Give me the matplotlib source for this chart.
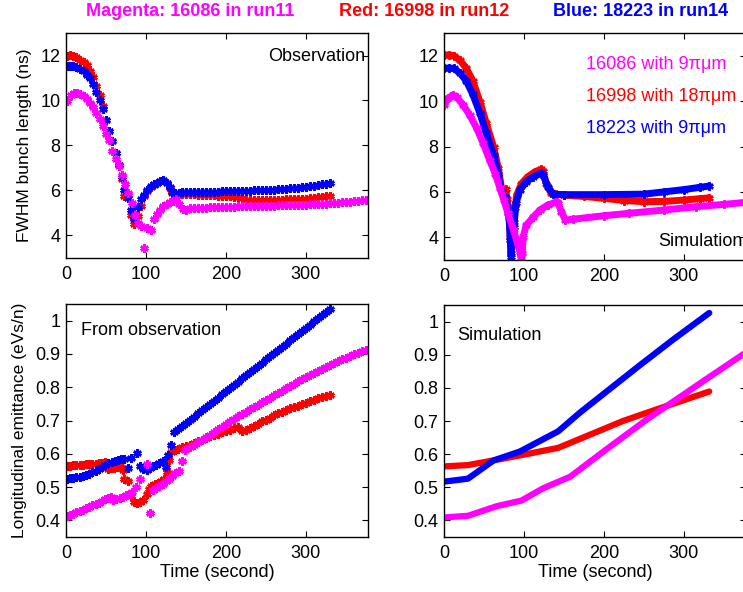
import numpy as np
import matplotlib
matplotlib.use("Agg")
import matplotlib.pyplot as plt

plt.rcParams['font.family'] = ['Liberation Sans', 'DejaVu Sans']

MAG = "#ff00ff"
RED = "#ff0000"
BLU = "#0000ff"

# =========================
# bunch length, observation (ns)
# =========================
mag_len_t = [1, 6, 10, 14, 18, 22, 26, 30, 34, 38, 42, 46, 50, 54, 58, 62, 66, 70, 74, 78,
             82, 86, 90, 94, 98, 102, 106, 110, 114, 118, 122, 126, 130, 134, 138, 142, 146, 150]
mag_len_t += list(np.arange(155, 380, 5))
mag_len = [9.98, 10.25, 10.32, 10.32, 10.28, 10.2, 10.05, 9.9, 9.7, 9.46, 9.17, 8.88, 8.52, 8.24,
           7.75, 7.42, 7.1, 6.68, 6.28, 5.87, 5.43, 4.9, 4.55, 4.43, 3.45, 4.33, 4.23, 4.75, 4.97,
           5.15, 5.3, 5.4, 5.47, 5.53, 5.62, 5.42, 5.17, 5.15,
           5.2, 5.21, 5.22, 5.23, 5.24, 5.25, 5.26, 5.26, 5.27, 5.27, 5.28, 5.28, 5.29, 5.29, 5.3,
           5.3, 5.31, 5.31, 5.32, 5.32, 5.33, 5.33, 5.34, 5.34, 5.35, 5.35, 5.36, 5.36, 5.37, 5.37,
           5.38, 5.39, 5.4, 5.41, 5.42, 5.43, 5.44, 5.45, 5.47, 5.48, 5.5, 5.52, 5.54, 5.56, 5.58]

red_len_t = [1, 5, 9, 13, 18, 22, 26, 30, 34, 38, 42, 46, 50, 54, 58, 62, 66, 70, 73, 77,
             81, 85, 90, 94, 98, 102, 106, 110, 114, 118, 122, 126, 130, 133, 137, 141, 145, 150]
red_len_t += list(np.arange(155, 335, 5))
red_len = [12.0, 12.02, 12.0, 11.95, 11.82, 11.7, 11.56, 11.3, 11.03, 10.65, 10.24, 9.76, 9.14,
           8.66, 8.22, 7.67, 7.12, 6.53, 5.75, 5.8, 4.9, 4.5, 4.85, 5.3, 5.75, 5.98, 6.15, 6.26,
           6.34, 6.42, 6.46, 6.33, 6.12, 5.9, 5.88, 5.87, 5.86, 5.85,
           5.84, 5.83, 5.82, 5.81, 5.8, 5.79, 5.78, 5.77, 5.76, 5.75, 5.74, 5.73, 5.72, 5.68, 5.58,
           5.57, 5.57, 5.57, 5.57, 5.58, 5.58, 5.58, 5.59, 5.59, 5.6, 5.6, 5.61, 5.62, 5.63, 5.64,
           5.66, 5.68, 5.7, 5.72, 5.74, 5.76]

blu_len_t = [1, 5, 9, 13, 17, 22, 26, 30, 34, 38, 42, 46, 50, 54, 58, 62, 66, 70, 73, 77,
             81, 85, 90, 94, 98, 102, 106, 110, 114, 118, 122, 126, 130, 133, 137, 141, 145, 150]
blu_len_t += list(np.arange(155, 335, 5))
blu_len = [11.52, 11.53, 11.52, 11.48, 11.42, 11.3, 11.15, 10.98, 10.72, 10.38, 10.01, 9.61,
           9.14, 8.66, 8.22, 7.67, 7.12, 6.6, 6.02, 5.65, 5.13, 4.72, 5.25, 5.6, 5.82, 6.01, 6.19,
           6.28, 6.35, 6.43, 6.48, 6.34, 6.14, 5.92, 5.91, 5.91, 5.92, 5.92,
           5.93, 5.93, 5.94, 5.94, 5.94, 5.95, 5.95, 5.95, 5.96, 5.96, 5.97, 5.97, 5.98, 5.98, 5.99,
           5.99, 6.0, 6.0, 6.01, 6.02, 6.03, 6.04, 6.05, 6.07, 6.08, 6.09, 6.11, 6.13, 6.15, 6.17,
           6.19, 6.21, 6.24, 6.27, 6.3, 6.33]

# =========================
# bunch length, simulation (ns)
# =========================
mag_sim_len_t = [0, 5, 11, 16, 24, 32, 41, 49, 57, 64, 70, 75, 80, 87, 92, 95, 96.5, 98, 99,
                 103, 112, 120, 130, 141, 143, 147, 152, 162, 200, 232, 275, 316, 350, 378]
mag_sim_len = [9.83, 10.12, 10.27, 10.17, 9.83, 9.39, 8.8, 8.14, 7.41, 6.81, 6.16, 5.64, 5.05,
               4.32, 3.73, 3.37, 3.1, 3.3, 4.02, 4.53, 4.9, 5.2, 5.42, 5.56, 5.49, 5.12, 4.76,
               4.8, 4.95, 5.06, 5.2, 5.35, 5.45, 5.54]

red_sim_len_t = [0, 6, 12, 20, 28, 36, 45, 53, 62, 68, 72, 75, 77, 79, 80.5, 82, 83, 84, 85.5,
                 87.5, 89, 91, 97, 105, 114, 122, 124, 128, 134, 140, 150, 175, 200, 225, 250,
                 275, 300, 320, 332]
red_sim_len = [12.03, 12.03, 12.0, 11.8, 11.44, 10.9, 9.97, 9.02, 7.99, 7.04, 6.16, 6.0, 6.12,
               5.7, 5.3, 4.6, 4.0, 3.3, 3.9, 4.68, 5.3, 5.86, 6.37, 6.67, 6.89, 7.0, 6.9, 6.37,
               5.93, 5.9, 5.86, 5.8, 5.72, 5.62, 5.57, 5.58, 5.64, 5.7, 5.74]

blu_sim_len_t = [0, 6, 12, 20, 28, 36, 45, 53, 62, 68, 72, 76, 79, 80.5, 82, 83, 84, 85.5, 87.5,
                 90, 95, 103, 112, 122, 124, 130, 137, 150, 200, 250, 275, 300, 320, 332]
blu_sim_len = [11.44, 11.46, 11.44, 11.24, 10.88, 10.3, 9.46, 8.58, 7.62, 6.81, 6.01, 5.79, 5.4,
               5.05, 4.6, 3.87, 3.14, 3.9, 4.46, 5.49, 6.08, 6.45, 6.67, 6.82, 6.75, 6.23, 5.89,
               5.88, 5.88, 5.9, 6.0, 6.1, 6.2, 6.26]

# =========================
# emittance, observation (eVs/n)
# =========================
mag_emit_t = [1, 5, 9, 13, 17, 21, 25, 29, 33, 37, 41, 45, 49, 53, 56, 59, 63, 67, 71, 75, 79,
              83, 88, 92, 101, 105, 109, 113, 117, 121, 125, 129, 133, 137, 141, 145, 149]
mag_emit_t += list(np.arange(155, 380, 5))
mag_emit = [0.412, 0.416, 0.420, 0.424, 0.428, 0.432, 0.437, 0.441, 0.445, 0.449, 0.453, 0.458,
            0.463, 0.468, 0.471, 0.460, 0.463, 0.467, 0.471, 0.476, 0.480, 0.485, 0.500, 0.523,
            0.568, 0.422, 0.490, 0.497, 0.503, 0.510, 0.517, 0.525, 0.533, 0.541, 0.547, 0.577,
            0.612,
            0.620, 0.627, 0.634, 0.641, 0.649, 0.657, 0.665, 0.673, 0.681, 0.690, 0.698, 0.705,
            0.713, 0.720, 0.727, 0.734, 0.741, 0.748, 0.755, 0.762, 0.769, 0.776, 0.783, 0.790,
            0.797, 0.804, 0.811, 0.818, 0.825, 0.831, 0.838, 0.844, 0.850, 0.856, 0.862, 0.868,
            0.873, 0.879, 0.884, 0.889, 0.894, 0.899, 0.904, 0.908, 0.912]

red_emit_t = [1, 5, 9, 13, 17, 21, 25, 29, 33, 37, 41, 45, 49, 52, 56, 60, 64, 68, 71, 73, 77,
              81, 85, 89, 93, 97, 101, 104, 107, 111, 115, 119, 123, 126, 129, 132, 136, 140,
              145, 150]
red_emit_t += list(np.arange(155, 335, 5))
red_emit = [0.563, 0.564, 0.565, 0.566, 0.566, 0.567, 0.568, 0.568, 0.569, 0.570, 0.571, 0.573,
            0.574, 0.554, 0.556, 0.558, 0.560, 0.562, 0.552, 0.524, 0.517, 0.472, 0.455, 0.452,
            0.455, 0.462, 0.478, 0.495, 0.503, 0.508, 0.513, 0.518, 0.525, 0.545, 0.582, 0.605,
            0.612, 0.615, 0.619, 0.623,
            0.627, 0.632, 0.637, 0.642, 0.647, 0.652, 0.656, 0.660, 0.664, 0.668, 0.672, 0.676,
            0.680, 0.667, 0.670, 0.677, 0.684, 0.690, 0.697, 0.703, 0.709, 0.716, 0.722, 0.727,
            0.732, 0.737, 0.741, 0.745, 0.750, 0.754, 0.758, 0.762, 0.767, 0.771, 0.775, 0.778]

blu_emit_t = [1, 5, 9, 13, 17, 21, 25, 29, 33, 37, 41, 45, 49, 53, 57, 61, 65, 69, 73, 77, 81,
              89, 93, 97, 101, 105, 109, 113, 117, 121, 125, 128, 132]
blu_emit_t += list(np.arange(135, 335, 5))
blu_emit = [0.524, 0.526, 0.527, 0.529, 0.531, 0.533, 0.536, 0.540, 0.544, 0.549, 0.554, 0.560,
            0.566, 0.572, 0.576, 0.579, 0.581, 0.583, 0.584, 0.557, 0.587, 0.602, 0.564, 0.555,
            0.552, 0.557, 0.562, 0.567, 0.572, 0.578, 0.559, 0.597, 0.625,
            0.666, 0.674, 0.683, 0.693, 0.702, 0.712, 0.722, 0.731, 0.741, 0.750, 0.760, 0.769,
            0.779, 0.789, 0.798, 0.808, 0.817, 0.827, 0.836, 0.846, 0.855, 0.865, 0.874, 0.884,
            0.893, 0.903, 0.912, 0.922, 0.931, 0.941, 0.950, 0.960, 0.969, 0.979, 0.988, 0.998,
            1.007, 1.017, 1.026, 1.036]

# =========================
# emittance, simulation (eVs/n)
# =========================
mag_sim_emit_t = [0, 30, 66, 97, 124, 158, 203, 253, 328, 378]
mag_sim_emit = [0.409, 0.414, 0.443, 0.460, 0.497, 0.532, 0.614, 0.703, 0.826, 0.907]

red_sim_emit_t = [0, 30, 66, 99, 143, 183, 224, 266, 332]
red_sim_emit = [0.563, 0.567, 0.583, 0.598, 0.619, 0.659, 0.700, 0.735, 0.789]

blu_sim_emit_t = [0, 30, 62, 95, 143, 170, 203, 245, 287, 332]
blu_sim_emit = [0.517, 0.526, 0.581, 0.608, 0.669, 0.725, 0.788, 0.868, 0.946, 1.026]


# =========================
# FIGURE
# =========================
W, H = 743, 592
fig = plt.figure(figsize=(W / 100, H / 100), dpi=100)


def box(left, top, right, bottom):
    return [left / W, 1 - bottom / H, (right - left) / W, (bottom - top) / H]


ax_tl = fig.add_axes(box(66, 33, 368, 258))
ax_tr = fig.add_axes(box(444, 33, 746, 260))
ax_bl = fig.add_axes(box(66, 304, 368, 537))
ax_br = fig.add_axes(box(444, 305, 746, 537))

for ax in (ax_tl, ax_tr, ax_bl, ax_br):
    ax.set_xlim(0, 378)
    ax.set_xticks([0, 100, 200, 300])
    ax.tick_params(direction="in", top=True, right=True, labelsize=13, length=4)
    ax.tick_params(axis="x", pad=6)
    ax.tick_params(axis="y", pad=4)
    for s in ax.spines.values():
        s.set_linewidth(1.0)

for ax in (ax_tl, ax_tr):
    ax.set_ylim(3, 13)
    ax.set_yticks([4, 6, 8, 10, 12])
for ax in (ax_bl, ax_br):
    ax.set_ylim(0.35, 1.05)
    ax.set_yticks([0.4, 0.5, 0.6, 0.7, 0.8, 0.9, 1.0])
    ax.set_yticklabels(["0.4", "0.5", "0.6", "0.7", "0.8", "0.9", "1"])

ast = dict(marker=(6, 2, 0), linestyle="none", markersize=6, markeredgewidth=1.8)

# observation panels
ax_tl.plot(red_len_t, red_len, color=RED, markeredgecolor=RED, **ast)
ax_tl.plot(blu_len_t, blu_len, color=BLU, markeredgecolor=BLU, **ast)
ax_tl.plot(mag_len_t, mag_len, color=MAG, markeredgecolor=MAG, **ast)

ax_bl.plot(red_emit_t, red_emit, color=RED, markeredgecolor=RED, **ast)
ax_bl.plot(blu_emit_t, blu_emit, color=BLU, markeredgecolor=BLU, **ast)
ax_bl.plot(mag_emit_t, mag_emit, color=MAG, markeredgecolor=MAG, **ast)

# simulation panels
sim = dict(linewidth=5, marker=(6, 2, 0), markersize=6, markeredgewidth=1.6,
           solid_capstyle="round", solid_joinstyle="round")
ax_tr.plot(red_sim_len_t, red_sim_len, color=RED, markeredgecolor=RED, **sim)
ax_tr.plot(blu_sim_len_t, blu_sim_len, color=BLU, markeredgecolor=BLU, **sim)
ax_tr.plot(mag_sim_len_t, mag_sim_len, color=MAG, markeredgecolor=MAG, **sim)

ln = dict(linewidth=4.5, solid_capstyle="round", solid_joinstyle="round")
ax_br.plot(red_sim_emit_t, red_sim_emit, color=RED, **ln)
ax_br.plot(blu_sim_emit_t, blu_sim_emit, color=BLU, **ln)
ax_br.plot(mag_sim_emit_t, mag_sim_emit, color=MAG, **ln)

# labels
ax_tl.set_ylabel("FWHM bunch length (ns)", fontsize=12.5, labelpad=6)
ax_bl.set_ylabel("Longitudinal emittance (eVs/n)", fontsize=12.5, labelpad=6)
ax_bl.set_xlabel("Time (second)", fontsize=13, labelpad=1)
ax_br.set_xlabel("Time (second)", fontsize=13, labelpad=1)

ax_tl.text(0.99, 0.895, "Observation", transform=ax_tl.transAxes, ha="right", va="center",
           fontsize=13)
ax_tr.text(0.99, 0.08, "Simulation", transform=ax_tr.transAxes, ha="right", va="center",
           fontsize=13)
ax_bl.text(0.05, 0.885, "From observation", transform=ax_bl.transAxes, ha="left",
           va="center", fontsize=13)
ax_br.text(0.045, 0.87, "Simulation", transform=ax_br.transAxes, ha="left", va="center",
           fontsize=13)

legend_rows = [("16086 with 9\u03c0\u03bcm", MAG), ("16998 with 18\u03c0\u03bcm", RED),
               ("18223 with 9\u03c0\u03bcm", BLU)]
for i, (txt, c) in enumerate(legend_rows):
    ax_tr.text(0.47, 0.86 - i * 0.14, txt, transform=ax_tr.transAxes, ha="left",
               va="center", fontsize=13, color=c)

titles = [("Magenta: 16086 in run11", MAG, 190), ("Red: 16998 in run12", RED, 424),
          ("Blue: 18223 in run14", BLU, 641)]
for txt, c, xc in titles:
    fig.text(xc / W, 1 - 12 / H, txt, color=c, ha="center", va="center", fontsize=13,
             fontweight="bold", family=["Liberation Sans Narrow", "Liberation Sans"])

fig.savefig("out.png", dpi=100)
